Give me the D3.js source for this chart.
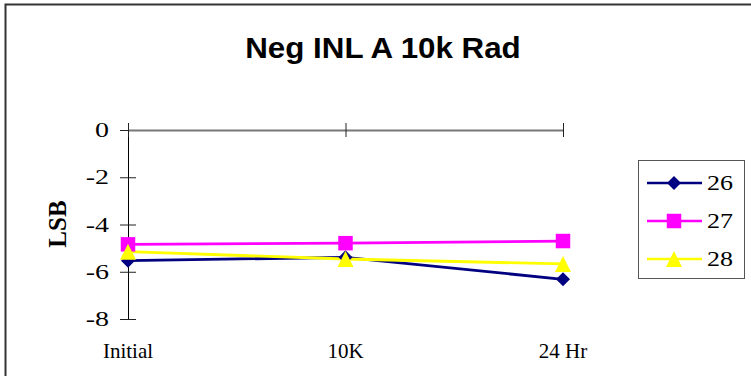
<!DOCTYPE html>
<html><head><meta charset="utf-8">
<script src="https://cdn.jsdelivr.net/npm/d3@7"></script>
<style>body{margin:0;background:#fff}svg{display:block}</style>
</head><body>
<svg id="c" width="751" height="376"></svg>
<script>
const title = "Neg INL A 10k Rad";
const categories = ["Initial", "10K", "24 Hr"];
const seriesNames = ["26", "27", "28"];
const s26 = [-5.53, -5.39, -6.32];
const s27 = [-4.84, -4.79, -4.70];
const s28 = [-5.15, -5.46, -5.67];
const yTicks = [0, -2, -4, -6, -8];
const colors = ["#000080", "#ff00ff", "#ffff00"];

const SERIF = "'Liberation Serif', 'Times New Roman', serif";
const SANS = "'Liberation Sans', Arial, sans-serif";

// custom marker shapes (size = full width in px)
const diamond = { draw(ctx, s) { const r = s / 2; ctx.moveTo(0, -r); ctx.lineTo(r, 0); ctx.lineTo(0, r); ctx.lineTo(-r, 0); ctx.closePath(); } };
const square = { draw(ctx, s) { const r = s / 2; ctx.rect(-r, -r, s, s); } };
const triangle = { draw(ctx, s) { const r = s / 2; ctx.moveTo(0, -r); ctx.lineTo(r, r); ctx.lineTo(-r, r); ctx.closePath(); } };
const symbols = [diamond, square, triangle];
const symSizes = [14, 14.5, 16];

const svg = d3.select("#c");
svg.append("rect").attr("x", 5.5).attr("y", 4.5).attr("width", 760).attr("height", 380)
  .attr("fill", "#fff").attr("stroke", "#333").attr("stroke-width", 2);

const x = d3.scalePoint().domain(categories).range([128, 563]);
const y = d3.scaleLinear().domain([0, -8]).range([130, 319]);

function stext(parent, px, py, sx, txt, size, family, anchor, weight) {
  const g = parent.append("g").attr("transform", `translate(${px},${py}) scale(${sx},1)`);
  g.append("text").attr("text-anchor", anchor).style("font-family", family)
    .style("font-size", size + "px").style("font-weight", weight || "normal")
    .attr("fill", "#000").text(txt);
  return g;
}

// title
stext(svg, 383, 58, 1.08, title, 29, SANS, "middle", "bold");

// y axis
const ya = svg.append("g").attr("transform", "translate(128,0)")
  .call(d3.axisLeft(y).tickValues(yTicks).tickFormat("").tickSize(0));
ya.select(".domain").attr("stroke", "#000").attr("stroke-width", 1);
ya.selectAll(".tick").append("line").attr("x1", -8).attr("x2", 8).attr("stroke", "#222");
yTicks.forEach(v => stext(svg, 109, y(v) + 7, 1.4, String(v), 20, SERIF, "end"));

// x axis line at y=0 (top)
const xa = svg.append("g").attr("transform", `translate(0,${y(0)})`)
  .call(d3.axisTop(x).tickSize(0).tickFormat(""));
xa.select(".domain").attr("stroke", "#777").attr("stroke-width", 2);
xa.selectAll(".tick").append("line").attr("y1", -7).attr("y2", 7).attr("stroke", "#222");

// x labels at bottom
categories.forEach(c => stext(svg, x(c), 358, 1, c, 21, SERIF, "middle"));

// y label
svg.append("text").attr("transform", "translate(66,224) rotate(-90)").attr("text-anchor", "middle")
  .style("font-family", SERIF).style("font-weight", "bold").style("font-size", "25px").text("LSB");

const allSeries = [s26, s27, s28];
const line = d3.line().x((d, i) => x(categories[i])).y(d => y(d));
allSeries.forEach((s, k) => {
  svg.append("path").datum(s).attr("d", line).attr("fill", "none")
    .attr("stroke", colors[k]).attr("stroke-width", 2.8);
});
allSeries.forEach((s, k) => {
  svg.append("g").selectAll("path").data(s).join("path")
    .attr("transform", (d, i) => `translate(${x(categories[i])},${y(d)})`)
    .attr("d", d3.symbol(symbols[k], symSizes[k])).attr("fill", colors[k]);
});

// legend
const lg = svg.append("g");
lg.append("rect").attr("x", 638.5).attr("y", 160.5).attr("width", 106).attr("height", 118)
  .attr("fill", "#fff").attr("stroke", "#555").attr("stroke-width", 1);
seriesNames.forEach((n, k) => {
  const cy = 183 + k * 38;
  lg.append("line").attr("x1", 647).attr("x2", 702).attr("y1", cy).attr("y2", cy)
    .attr("stroke", colors[k]).attr("stroke-width", 2.5);
  lg.append("path").attr("transform", `translate(674,${cy})`)
    .attr("d", d3.symbol(symbols[k], symSizes[k])).attr("fill", colors[k]);
  stext(lg, 707, cy + 7, 1.3, n, 20, SERIF, "start");
});
</script>
</body></html>
